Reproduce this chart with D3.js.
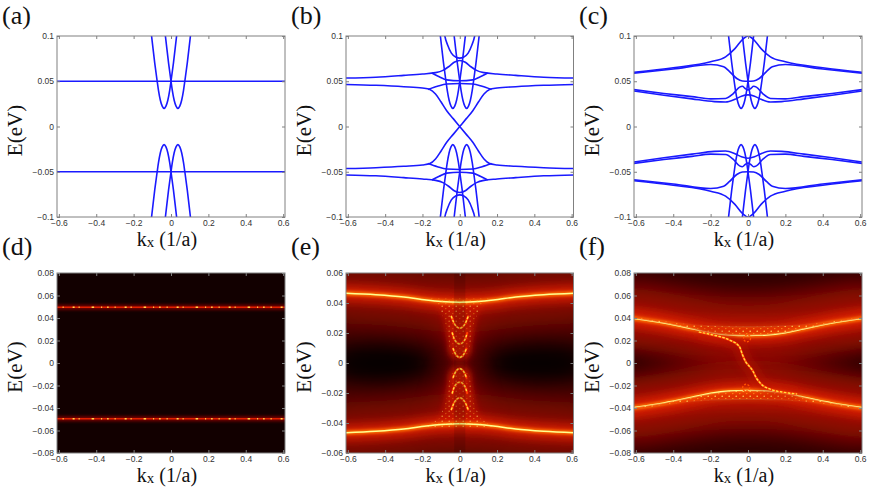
<!DOCTYPE html>
<html lang="en">
<head>
<meta charset="UTF-8">
<title>Bands and spectral function</title>
<script src="https://d3js.org/d3.v7.min.js"></script>
<style>
  body { margin: 0; background: #fff; }
  svg { display: block; }
  .tick text { font-family: "Liberation Sans", Arial, sans-serif; font-size: 8.5px; fill: #333; }
  .tick line { stroke: #808080; }
</style>
</head>
<body>
<div id="fig"></div>
<script>
// ---- ticks ----
const kxTicks = [-0.6, -0.4, -0.2, 0, 0.2, 0.4, 0.6]
const eTicksBand = [-0.1, -0.05, 0, 0.05, 0.1]
const eTicksD = [-0.08, -0.06, -0.04, -0.02, 0, 0.02, 0.04, 0.06, 0.08]
const eTicksE = [-0.06, -0.04, -0.02, 0, 0.02, 0.04, 0.06]
const eTicksF = [-0.08, -0.06, -0.04, -0.02, 0, 0.02, 0.04, 0.06, 0.08]
const panelNames = ["(a)", "(b)", "(c)", "(d)", "(e)", "(f)"]

// ---- narrow V bands near kx = 0 (same in a, b, c) ----
const vUpL = [[-0.11,0.11],[-0.104,0.1],[-0.087,0.07],[-0.074,0.05],[-0.067,0.04],[-0.057,0.029],[-0.047,0.0225],[-0.037,0.02],[-0.027,0.0225],[-0.017,0.029],[-0.007,0.04],[0,0.05],[0.013,0.07],[0.03,0.1],[0.036,0.11]]
const vUpR = [[-0.036,0.11],[-0.03,0.1],[-0.013,0.07],[0,0.05],[0.007,0.04],[0.017,0.029],[0.027,0.0225],[0.037,0.02],[0.047,0.0225],[0.057,0.029],[0.067,0.04],[0.074,0.05],[0.087,0.07],[0.104,0.1],[0.11,0.11]]
const vDnL = [[-0.11,-0.11],[-0.104,-0.1],[-0.087,-0.07],[-0.074,-0.05],[-0.067,-0.04],[-0.057,-0.029],[-0.047,-0.0225],[-0.037,-0.02],[-0.027,-0.0225],[-0.017,-0.029],[-0.007,-0.04],[0,-0.05],[0.013,-0.07],[0.03,-0.1],[0.036,-0.11]]
const vDnR = [[-0.036,-0.11],[-0.03,-0.1],[-0.013,-0.07],[0,-0.05],[0.007,-0.04],[0.017,-0.029],[0.027,-0.0225],[0.037,-0.02],[0.047,-0.0225],[0.057,-0.029],[0.067,-0.04],[0.074,-0.05],[0.087,-0.07],[0.104,-0.1],[0.11,-0.11]]

// ---- (a) flat bands ----
const aFlatUp = [[-0.62,0.05],[0.62,0.05]]
const aFlatDn = [[-0.62,-0.05],[0.62,-0.05]]

// ---- (b) ----
const bOuterUp = [[-0.62,0.0535],[-0.45,0.0545],[-0.3,0.0565],[-0.2,0.058],[-0.13,0.0595],[-0.09,0.062],[-0.06,0.066],[-0.03,0.071],[0,0.073],[0.03,0.071],[0.06,0.066],[0.09,0.062],[0.13,0.0595],[0.2,0.058],[0.3,0.0565],[0.45,0.0545],[0.62,0.0535]]
const bOuterDn = [[-0.62,-0.0535],[-0.45,-0.0545],[-0.3,-0.0565],[-0.2,-0.058],[-0.13,-0.0595],[-0.09,-0.062],[-0.06,-0.066],[-0.03,-0.071],[0,-0.073],[0.03,-0.071],[0.06,-0.066],[0.09,-0.062],[0.13,-0.0595],[0.2,-0.058],[0.3,-0.0565],[0.45,-0.0545],[0.62,-0.0535]]
const bCapUp = [[-0.088,0.11],[-0.08,0.1],[-0.065,0.09],[-0.045,0.081],[-0.02,0.0765],[0,0.0755],[0.02,0.0765],[0.045,0.081],[0.065,0.09],[0.08,0.1],[0.088,0.11]]
const bCapDn = [[-0.088,-0.11],[-0.08,-0.1],[-0.065,-0.09],[-0.045,-0.081],[-0.02,-0.0765],[0,-0.0755],[0.02,-0.0765],[0.045,-0.081],[0.065,-0.09],[0.08,-0.1],[0.088,-0.11]]
const bMidUpA = [[-0.15,0.0592],[-0.11,0.055],[-0.07,0.0515],[0,0.0505],[0.07,0.0515],[0.11,0.055],[0.15,0.0592]]
const bMidUpB = [[-0.17,0.041],[-0.12,0.0445],[-0.07,0.047],[0,0.0475],[0.07,0.047],[0.12,0.0445],[0.17,0.041]]
const bMidDnA = [[-0.15,-0.0592],[-0.11,-0.055],[-0.07,-0.0515],[0,-0.0505],[0.07,-0.0515],[0.11,-0.055],[0.15,-0.0592]]
const bMidDnB = [[-0.17,-0.041],[-0.12,-0.0445],[-0.07,-0.047],[0,-0.0475],[0.07,-0.047],[0.12,-0.0445],[0.17,-0.041]]
const bDiracA = [[-0.62,0.0465],[-0.45,0.0455],[-0.3,0.044],[-0.2,0.0425],[-0.16,0.041],[-0.13,0.036],[-0.1,0.027],[-0.07,0.0175],[-0.035,0.0087],[0,0],[0.035,-0.0087],[0.07,-0.0175],[0.1,-0.027],[0.13,-0.036],[0.16,-0.041],[0.2,-0.0425],[0.3,-0.044],[0.45,-0.0455],[0.62,-0.0465]]
const bDiracB = [[-0.62,-0.0465],[-0.45,-0.0455],[-0.3,-0.044],[-0.2,-0.0425],[-0.16,-0.041],[-0.13,-0.036],[-0.1,-0.027],[-0.07,-0.0175],[-0.035,-0.0087],[0,0],[0.035,0.0087],[0.07,0.0175],[0.1,0.027],[0.13,0.036],[0.16,0.041],[0.2,0.0425],[0.3,0.044],[0.45,0.0455],[0.62,0.0465]]

// ---- (c) ----
const cOuterUp = [[-0.62,0.0598],[-0.4,0.065],[-0.2,0.0715],[-0.12,0.077],[-0.07,0.086],[-0.03,0.096],[0,0.1],[0.03,0.096],[0.07,0.086],[0.12,0.077],[0.2,0.0715],[0.4,0.065],[0.62,0.0598]]
const cOuterDn = [[-0.62,-0.0598],[-0.4,-0.065],[-0.2,-0.0715],[-0.12,-0.077],[-0.07,-0.086],[-0.03,-0.096],[0,-0.1],[0.03,-0.096],[0.07,-0.086],[0.12,-0.077],[0.2,-0.0715],[0.4,-0.065],[0.62,-0.0598]]
const cInnerUp = [[-0.62,0.0588],[-0.4,0.0635],[-0.2,0.0685],[-0.13,0.066],[-0.1,0.061],[-0.06,0.053],[-0.03,0.0503],[0,0.05],[0.03,0.0503],[0.06,0.053],[0.1,0.061],[0.13,0.066],[0.2,0.0685],[0.4,0.0635],[0.62,0.0588]]
const cInnerDn = [[-0.62,-0.0588],[-0.4,-0.0635],[-0.2,-0.0685],[-0.13,-0.066],[-0.1,-0.061],[-0.06,-0.053],[-0.03,-0.0503],[0,-0.05],[0.03,-0.0503],[0.06,-0.053],[0.1,-0.061],[0.13,-0.066],[0.2,-0.0685],[0.4,-0.0635],[0.62,-0.0588]]
const cLowAUp = [[-0.62,0.041],[-0.45,0.0365],[-0.3,0.033],[-0.2,0.0305],[-0.12,0.031],[-0.08,0.036],[-0.045,0.0435],[-0.03,0.0445],[-0.015,0.042],[0,0.0405],[0.015,0.042],[0.03,0.0445],[0.045,0.0435],[0.08,0.036],[0.12,0.031],[0.2,0.0305],[0.3,0.033],[0.45,0.0365],[0.62,0.041]]
const cLowADn = [[-0.62,-0.041],[-0.45,-0.0365],[-0.3,-0.033],[-0.2,-0.0305],[-0.12,-0.031],[-0.08,-0.036],[-0.045,-0.0435],[-0.03,-0.0445],[-0.015,-0.042],[0,-0.0405],[0.015,-0.042],[0.03,-0.0445],[0.045,-0.0435],[0.08,-0.036],[0.12,-0.031],[0.2,-0.0305],[0.3,-0.033],[0.45,-0.0365],[0.62,-0.041]]
const cLowBUp = [[-0.62,0.0395],[-0.45,0.0345],[-0.3,0.0305],[-0.18,0.0275],[-0.12,0.027],[-0.07,0.03],[-0.035,0.0335],[0,0.035],[0.035,0.0335],[0.07,0.03],[0.12,0.027],[0.18,0.0275],[0.3,0.0305],[0.45,0.0345],[0.62,0.0395]]
const cLowBDn = [[-0.62,-0.0395],[-0.45,-0.0345],[-0.3,-0.0305],[-0.18,-0.0275],[-0.12,-0.027],[-0.07,-0.03],[-0.035,-0.0335],[0,-0.035],[0.035,-0.0335],[0.07,-0.03],[0.12,-0.027],[0.18,-0.0275],[0.3,-0.0305],[0.45,-0.0345],[0.62,-0.0395]]

// ---- (d) spectral lines ----
const dLineUp = [[-0.62,0.0495],[0.62,0.0495]]
const dLineDn = [[-0.62,-0.0495],[0.62,-0.0495]]

// ---- (e) ----
const eBandUp = [[-0.62,0.0465],[-0.45,0.0455],[-0.3,0.044],[-0.18,0.042],[-0.1,0.041],[0,0.0405],[0.1,0.041],[0.18,0.042],[0.3,0.044],[0.45,0.0455],[0.62,0.0465]]
const eBandDn = [[-0.62,-0.0465],[-0.45,-0.0455],[-0.3,-0.044],[-0.18,-0.042],[-0.1,-0.041],[0,-0.0405],[0.1,-0.041],[0.18,-0.042],[0.3,-0.044],[0.45,-0.0455],[0.62,-0.0465]]
const eNeckUp = [[-0.18,0.043],[-0.11,0.037],[-0.08,0.028],[-0.062,0.017],[-0.05,0.007],[-0.02,0.003],[0.02,0.003],[0.05,0.007],[0.062,0.017],[0.08,0.028],[0.11,0.037],[0.18,0.043]]
const eNeckDn = [[-0.18,-0.043],[-0.11,-0.037],[-0.08,-0.028],[-0.062,-0.017],[-0.05,-0.007],[-0.02,-0.003],[0.02,-0.003],[0.05,-0.007],[0.062,-0.017],[0.08,-0.028],[0.11,-0.037],[0.18,-0.043]]
const eArcsUp = [
  [[-0.045,0.031],[-0.03,0.0265],[-0.015,0.024],[0,0.0232],[0.015,0.024],[0.03,0.0265],[0.045,0.031]],
  [[-0.04,0.02],[-0.025,0.015],[0,0.0127],[0.025,0.015],[0.04,0.02]],
  [[-0.035,0.0095],[-0.02,0.0055],[0,0.0038],[0.02,0.0055],[0.035,0.0095]]
]
const eArcsDn = [
  [[-0.045,-0.031],[-0.03,-0.0265],[-0.015,-0.024],[0,-0.0232],[0.015,-0.024],[0.03,-0.0265],[0.045,-0.031]],
  [[-0.04,-0.02],[-0.025,-0.015],[0,-0.0127],[0.025,-0.015],[0.04,-0.02]],
  [[-0.035,-0.0095],[-0.02,-0.0055],[0,-0.0038],[0.02,-0.0055],[0.035,-0.0095]]
]
const eLobes = [[-0.43,0],[0.43,0]]
const eStripe = [-0.03, 0.03]

// ---- (f) ----
const fBandUpA = [[-0.62,0.0412],[-0.45,0.037],[-0.3,0.034],[-0.15,0.0325],[0,0.032],[0.15,0.0325],[0.3,0.034],[0.45,0.037],[0.62,0.0412]]
const fBandUpB = [[-0.62,0.0398],[-0.45,0.0355],[-0.3,0.0305],[-0.2,0.027],[-0.1,0.025],[0,0.0245],[0.1,0.025],[0.2,0.027],[0.3,0.0305],[0.45,0.0355],[0.62,0.0398]]
const fBandDnA = [[-0.62,-0.0412],[-0.45,-0.037],[-0.3,-0.034],[-0.15,-0.0325],[0,-0.032],[0.15,-0.0325],[0.3,-0.034],[0.45,-0.037],[0.62,-0.0412]]
const fBandDnB = [[-0.62,-0.0398],[-0.45,-0.0355],[-0.3,-0.0305],[-0.2,-0.027],[-0.1,-0.025],[0,-0.0245],[0.1,-0.025],[0.2,-0.027],[0.3,-0.0305],[0.45,-0.0355],[0.62,-0.0398]]
const fEdge = [[-0.26,0.0275],[-0.19,0.025],[-0.1,0.0205],[-0.046,0.0146],[-0.029,0.0071],[-0.012,0.001],[0.005,-0.0025],[0.025,-0.0068],[0.043,-0.0128],[0.07,-0.0187],[0.123,-0.0235],[0.19,-0.026],[0.26,-0.0275]]
const fRings = [[-0.005,0.022],[-0.01,-0.022]]
const fLobes = [[-0.45,0],[0.45,0]]

// ---- layout ----
const W = 872, H = 489
const serif = '"Liberation Serif", "Times New Roman", "DejaVu Serif", serif'
const boxes = [
  {x: 57, y: 36, w: 228, h: 181},
  {x: 346, y: 36, w: 227.5, h: 181},
  {x: 634, y: 36, w: 228, h: 181},
  {x: 57, y: 273, w: 228, h: 180},
  {x: 346, y: 273, w: 227.5, h: 180},
  {x: 634, y: 273, w: 228, h: 180}
]

const svg = d3.select("#fig").append("svg").attr("width", W).attr("height", H)
const defs = svg.append("defs")
;[0.6, 1.5, 3, 5, 14, 10].forEach((s, i) => {
  defs.append("filter").attr("id", "blur" + i)
    .attr("filterUnits", "userSpaceOnUse")
    .attr("x", 0).attr("y", 0).attr("width", W).attr("height", H)
    .append("feGaussianBlur").attr("stdDeviation", s)
})
const pat = defs.append("pattern").attr("id", "speck")
  .attr("patternUnits", "userSpaceOnUse").attr("width", 7).attr("height", 5)
pat.append("circle").attr("cx", 1.2).attr("cy", 1.2).attr("r", 0.8).attr("fill", "#ffe060")
pat.append("circle").attr("cx", 4.8).attr("cy", 3.6).attr("r", 0.7).attr("fill", "#ffa020")

function makePanel(i, yDomain) {
  const b = boxes[i]
  const x = d3.scaleLinear().domain([-0.61, 0.61]).range([b.x, b.x + b.w])
  const y = d3.scaleLinear().domain(yDomain).range([b.y + b.h, b.y])
  defs.append("clipPath").attr("id", "clip" + i)
    .append("rect").attr("x", b.x).attr("y", b.y).attr("width", b.w).attr("height", b.h)
  const g = svg.append("g").attr("clip-path", `url(#clip${i})`)
  const line = d3.line().x(d => x(d[0])).y(d => y(d[1])).curve(d3.curveMonotoneX)
  const poly = d3.line().x(d => x(d[0])).y(d => y(d[1])).curve(d3.curveLinearClosed)
  return {i, b, x, y, g, line, poly}
}

const fmt = d => d === 0 ? "0" : (d < 0 ? "\u2212" : "") + Math.abs(d)

function drawAxes(p, yTicks, row) {
  const b = p.b
  const noLab = () => ""
  svg.append("g").attr("transform", `translate(0,${b.y + b.h})`)
    .call(d3.axisBottom(p.x).tickValues(kxTicks).tickFormat(fmt).tickSizeInner(-3).tickSizeOuter(0).tickPadding(3))
    .call(g => g.select(".domain").remove())
  svg.append("g").attr("transform", `translate(0,${b.y})`)
    .call(d3.axisTop(p.x).tickValues(kxTicks).tickFormat(noLab).tickSizeInner(-3).tickSizeOuter(0))
    .call(g => g.select(".domain").remove())
  svg.append("g").attr("transform", `translate(${b.x},0)`)
    .call(d3.axisLeft(p.y).tickValues(yTicks).tickFormat(fmt).tickSizeInner(-3).tickSizeOuter(0).tickPadding(3))
    .call(g => g.select(".domain").remove())
  svg.append("g").attr("transform", `translate(${b.x + b.w},0)`)
    .call(d3.axisRight(p.y).tickValues(yTicks).tickFormat(noLab).tickSizeInner(-3).tickSizeOuter(0))
    .call(g => g.select(".domain").remove())
  svg.append("rect").attr("x", b.x).attr("y", b.y).attr("width", b.w).attr("height", b.h)
    .attr("fill", "none").attr("stroke", "#808080").attr("stroke-width", 1)

  svg.append("text").style("font-family", serif).attr("font-size", 21).attr("fill", "#111")
    .attr("text-anchor", "middle")
    .attr("transform", `translate(${b.x - 35},${b.y + b.h / 2 + 4}) rotate(-90)`)
    .text("E(eV)")
  const xt = svg.append("text").style("font-family", serif).attr("font-size", 20).attr("fill", "#111")
    .attr("text-anchor", "middle")
    .attr("x", b.x + b.w / 2 - 4).attr("y", b.y + b.h + 28.5)
  xt.append("tspan").text("k")
  xt.append("tspan").attr("font-size", 15).attr("dy", 1).text("x")
  xt.append("tspan").attr("dy", -1).text(" (1/a)")
  svg.append("text").style("font-family", serif).attr("font-size", 26).attr("fill", "#111")
    .attr("x", b.x - 55).attr("y", row === 0 ? 24 : 255)
    .text(panelNames[p.i])
}

function bandLines(p, curves) {
  p.g.selectAll(null).data(curves).join("path")
    .attr("d", p.line).attr("fill", "none")
    .attr("stroke", "#1a1aff").attr("stroke-width", 1.6)
}

function glow(p, curve, layers) {
  layers.forEach(l => {
    p.g.append("path").attr("d", p.line(curve)).attr("fill", "none")
      .attr("stroke", l.c).attr("stroke-width", l.w).attr("opacity", l.o)
      .attr("stroke-linecap", "round")
      .attr("stroke-dasharray", l.dash || null)
      .attr("filter", l.b === null ? null : `url(#blur${l.b})`)
  })
}

function darkLobes(p, lobes, rx, ry) {
  p.g.selectAll(null).data(lobes).join("ellipse")
    .attr("cx", d => p.x(d[0])).attr("cy", d => p.y(d[1]))
    .attr("rx", rx).attr("ry", ry)
    .attr("fill", "#000").attr("opacity", 0.9).attr("filter", "url(#blur5)")
}

const bandGlow = [
  {w: 60, c: "#a00c00", o: 0.75, b: 4},
  {w: 16, c: "#e02000", o: 0.85, b: 3},
  {w: 4.5, c: "#ff7000", o: 1, b: 1},
  {w: 1.6, c: "#ffff90", o: 1, b: null}
]
const thinGlow = [
  {w: 10, c: "#c01800", o: 0.6, b: 3},
  {w: 2.2, c: "#ff3a00", o: 1, b: 0},
  {w: 1.4, c: "#ffe040", o: 1, b: null, dash: "1.5,2.5"}
]

// ---- (a) ----
const pa = makePanel(0, [-0.1, 0.1])
bandLines(pa, [aFlatUp, aFlatDn, vUpL, vUpR, vDnL, vDnR])
drawAxes(pa, eTicksBand, 0)

// ---- (b) ----
const pb = makePanel(1, [-0.1, 0.1])
bandLines(pb, [bOuterUp, bOuterDn, bCapUp, bCapDn, bMidUpA, bMidUpB, bMidDnA, bMidDnB, bDiracA, bDiracB, vUpL, vUpR, vDnL, vDnR])
drawAxes(pb, eTicksBand, 0)

// ---- (c) ----
const pc = makePanel(2, [-0.1, 0.1])
bandLines(pc, [cOuterUp, cOuterDn, cInnerUp, cInnerDn, cLowAUp, cLowADn, cLowBUp, cLowBDn, vUpL, vUpR, vDnL, vDnR])
drawAxes(pc, eTicksBand, 0)

// ---- (d) ----
const pd = makePanel(3, [-0.08, 0.08])
pd.g.append("rect").attr("x", pd.b.x).attr("y", pd.b.y).attr("width", pd.b.w).attr("height", pd.b.h).attr("fill", "#120000")
;[dLineUp, dLineDn].forEach(c => {
  glow(pd, c, [
    {w: 5, c: "#900000", o: 0.8, b: 1},
    {w: 1.6, c: "#e02000", o: 1, b: null}
  ])
  pd.g.append("path").attr("d", pd.line(c)).attr("fill", "none")
    .attr("stroke", "#ffd84a").attr("stroke-width", 1.6)
    .attr("stroke-dasharray", "1.5,6,1,9,2,4,1,12,2.5,7,1,5")
})
drawAxes(pd, eTicksD, 1)

// ---- (e) ----
const pe = makePanel(4, [-0.06, 0.06])
pe.g.append("rect").attr("x", pe.b.x).attr("y", pe.b.y).attr("width", pe.b.w).attr("height", pe.b.h).attr("fill", "#3a0300")
darkLobes(pe, eLobes, 52, 20)
;[eNeckUp, eNeckDn].forEach(n => {
  pe.g.append("path").attr("d", pe.poly(n)).attr("fill", "#a01000").attr("opacity", 0.8).attr("filter", "url(#blur4)")
  pe.g.append("path").attr("d", pe.poly(n)).attr("fill", "#c81c00").attr("filter", "url(#blur2)")
})
;[eBandUp, eBandDn].forEach(c => glow(pe, c, bandGlow))
;[eNeckUp, eNeckDn].forEach(n => {
  pe.g.append("path").attr("d", pe.poly(n)).attr("fill", "url(#speck)").attr("opacity", 0.6)
})
eArcsUp.concat(eArcsDn).forEach(c => glow(pe, c, thinGlow))
pe.g.append("rect").attr("x", pe.x(eStripe[0])).attr("y", pe.b.y)
  .attr("width", pe.x(eStripe[1]) - pe.x(eStripe[0])).attr("height", pe.b.h)
  .attr("fill", "#000").attr("opacity", 0.12)
drawAxes(pe, eTicksE, 1)

// ---- (f) ----
const pf = makePanel(5, [-0.08, 0.08])
pf.g.append("rect").attr("x", pf.b.x).attr("y", pf.b.y).attr("width", pf.b.w).attr("height", pf.b.h).attr("fill", "#2a0200")
darkLobes(pf, fLobes, 50, 22)
;[[fBandUpA, fBandUpB], [fBandDnA, fBandDnB]].forEach(([a, b]) => {
  const outline = a.concat(b.slice().reverse())
  pf.g.append("path").attr("d", pf.poly(outline)).attr("fill", "#a00c00").attr("opacity", 0.8).attr("filter", "url(#blur4)")
  glow(pf, a, bandGlow)
  glow(pf, b, bandGlow)
  pf.g.append("path").attr("d", pf.poly(outline)).attr("fill", "#f04000").attr("opacity", 0.6)
  pf.g.append("path").attr("d", pf.poly(outline)).attr("fill", "url(#speck)").attr("opacity", 0.9)
})
glow(pf, fEdge, thinGlow)
pf.g.selectAll(null).data(fRings).join("circle")
  .attr("cx", d => pf.x(d[0])).attr("cy", d => pf.y(d[1])).attr("r", 3.5)
  .attr("fill", "none").attr("stroke", "#ff5000").attr("stroke-width", 1.3)
  .attr("stroke-dasharray", "2,1.5")
drawAxes(pf, eTicksF, 1)
</script>
</body>
</html>
